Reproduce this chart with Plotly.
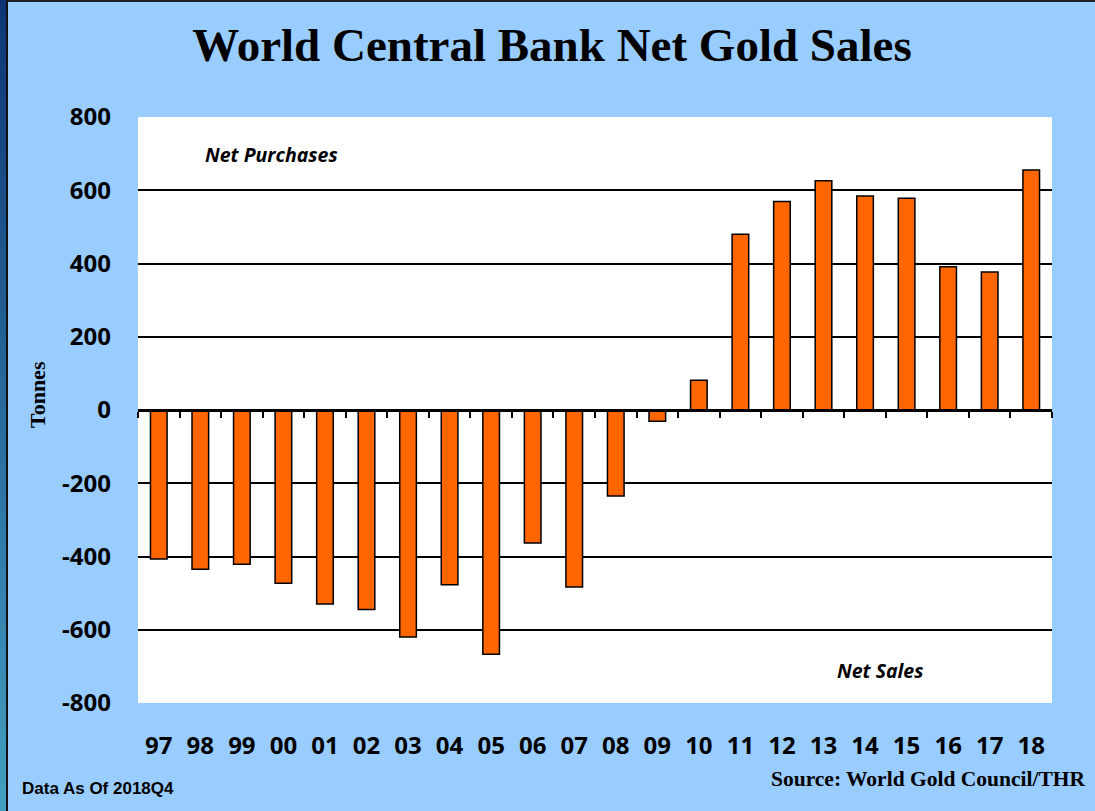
import plotly.graph_objects as go

# Annual central bank net gold purchases (+) / sales (-), tonnes
years = ["97", "98", "99", "00", "01", "02", "03", "04", "05", "06", "07",
         "08", "09", "10", "11", "12", "13", "14", "15", "16", "17", "18"]
net_tonnes = [-407, -435, -421, -473, -530, -545, -620, -477, -667, -363, -483,
              -235, -31, 81, 480, 569, 626, 584, 578, 391, 377, 655]
y_ticks = [-800, -600, -400, -200, 0, 200, 400, 600, 800]

W, H = 1095, 811
L, R, T, B = 138, 43, 117, 108
BG = "#99CCFF"
BAR = "#FF6600"

fig = go.Figure()
fig.add_trace(go.Bar(
    x=years, y=net_tonnes, width=0.4,
    marker=dict(color=BAR, line=dict(color="black", width=1.5)),
    hoverinfo="x+y", showlegend=False,
))

tick_font = dict(family="Open Sans", size=24, color="black", weight="bold")

fig.update_layout(
    width=W, height=H,
    margin=dict(l=L, r=R, t=T, b=B, pad=0),
    paper_bgcolor=BG, plot_bgcolor="white",
    bargap=0.6,
    xaxis=dict(
        type="category", showgrid=False, showline=False, zeroline=False,
        ticks="", tickfont=tick_font, ticklabelstandoff=26,
        range=[-0.5, len(years) - 0.5],
    ),
    # zero axis with boundary tick marks
    xaxis2=dict(
        matches="x", overlaying="x", anchor="free", position=0.5,
        type="category", showline=True, linecolor="black", linewidth=2.5,
        ticks="outside", tickson="boundaries", ticklen=6, tickwidth=2,
        tickcolor="black", showticklabels=False, showgrid=False, zeroline=False,
    ),
    yaxis=dict(
        range=[-800, 800], tickvals=y_ticks, ticktext=[str(v) for v in y_ticks],
        showgrid=True, gridcolor="black", gridwidth=1.5,
        zeroline=False, showline=False, ticks="",
        tickfont=tick_font, ticklabelstandoff=26,
    ),
    title=dict(
        text="World Central Bank Net Gold Sales",
        font=dict(family="Liberation Serif", size=47, color="black", weight="bold"),
        x=552 / W, xanchor="center",
        y=1 - 45 / H, yanchor="middle", yref="container",
    ),
)

# invisible helper so the zero axis is rendered
fig.add_trace(go.Scatter(x=years, y=[None] * len(years), xaxis="x2",
                         mode="markers", showlegend=False, hoverinfo="skip"))

def px_x(px):
    return (px - L) / (W - L - R)

def px_y(py):
    return (H - B - py) / (H - T - B)

annos = [
    dict(text="<b><i>Net Purchases</i></b>", x=px_x(271), y=px_y(154),
         font=dict(family="Open Sans", size=19.5, color="black")),
    dict(text="<b><i>Net Sales</i></b>", x=px_x(880), y=px_y(670),
         font=dict(family="Open Sans", size=19.5, color="black")),
    dict(text="<b>Data As Of 2018Q4</b>", x=px_x(20), y=px_y(788), xanchor="left",
         font=dict(family="Liberation Sans", size=17, color="black")),
    dict(text="<b>Source: World Gold Council/THR</b>", x=px_x(1087), y=px_y(779),
         xanchor="right", font=dict(family="Liberation Serif", size=21.5, color="black")),
    dict(text="<b>Tonnes</b>", x=px_x(37), y=px_y(395), textangle=-90,
         font=dict(family="Liberation Serif", size=22, color="black")),
]
for a in annos:
    a.setdefault("xanchor", "center")
    fig.add_annotation(xref="paper", yref="paper", yanchor="middle",
                       showarrow=False, **a)

# Slide frame: dark blue gradient strip on the left, thin dark edge lines
top_rgb = (14, 54, 118)
bot_rgb = (66, 158, 194)
n = 60
for i in range(n):
    t = i / (n - 1)
    c = tuple(round(a + (b - a) * t) for a, b in zip(top_rgb, bot_rgb))
    fig.add_shape(type="rect", xref="paper", yref="paper",
                  x0=px_x(0), x1=px_x(6.5),
                  y0=px_y(H * i / n - 1), y1=px_y(H * (i + 1) / n + 1),
                  fillcolor="rgb(%d,%d,%d)" % c, line=dict(width=0), layer="above")
fig.add_shape(type="line", xref="paper", yref="paper",
              x0=px_x(7), x1=px_x(7), y0=px_y(0), y1=px_y(H),
              line=dict(color="#111111", width=2))
fig.add_shape(type="line", xref="paper", yref="paper",
              x0=px_x(7), x1=px_x(W), y0=px_y(1), y1=px_y(1),
              line=dict(color="#222222", width=2))

fig.write_html("out.html")
